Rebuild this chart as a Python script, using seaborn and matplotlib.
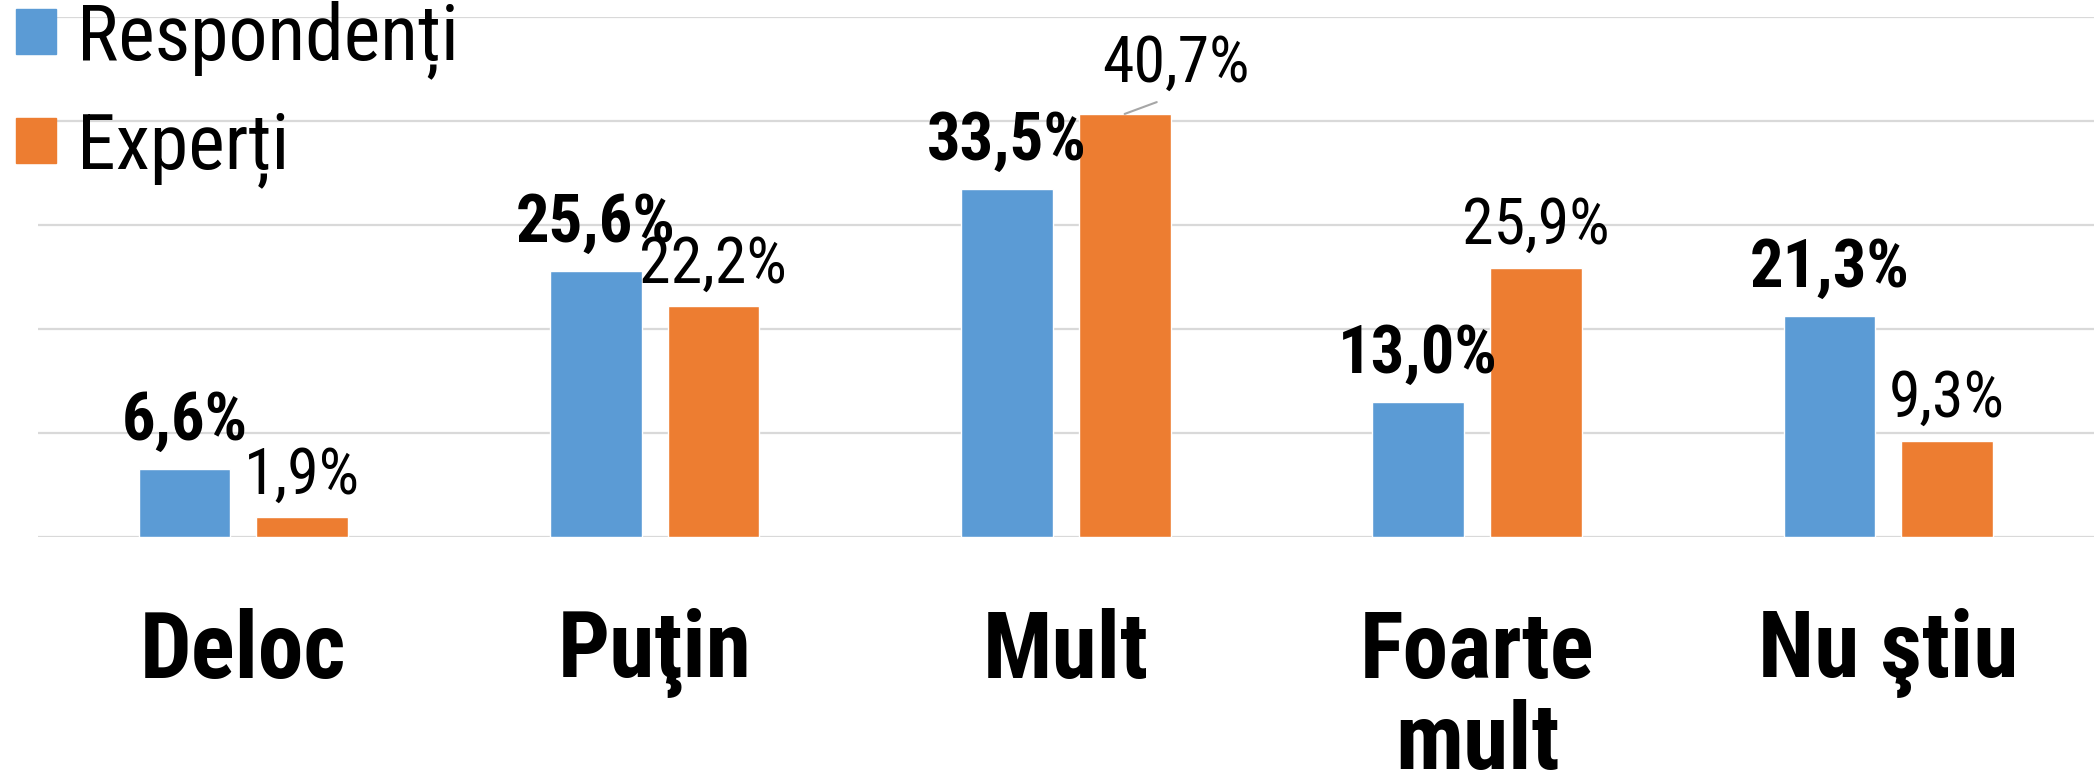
import numpy as np
import pandas as pd

import matplotlib
matplotlib.use("Agg")
import matplotlib.pyplot as plt
import matplotlib.patches as patches
from matplotlib import font_manager as fm

import seaborn as sns

categories = ["Deloc", "Puţin", "Mult", "Foarte\nmult", "Nu ştiu"]
respondenti = [6.6, 25.6, 33.5, 13.0, 21.3]
experti = [1.9, 22.2, 40.7, 25.9, 9.3]
groups = ["Respondenți", "Experți"]

BLUE = "#5B9BD5"
ORANGE = "#ED7D31"
GRID = "#D9D9D9"


def pick_font(names):
    for n in names:
        try:
            fm.findfont(fm.FontProperties(family=n), fallback_to_default=False)
            return n
        except ValueError:
            pass
    return "DejaVu Sans"


def fmt(v):
    return "{:.1f}".format(v).replace(".", ",") + "%"


df = pd.DataFrame({
    "cat": categories * 2,
    "val": respondenti + experti,
    "grup": [groups[0]] * len(categories) + [groups[1]] * len(categories),
})

sns.set_style("white")
font = pick_font(["Roboto Condensed", "Liberation Sans Narrow",
                  "Liberation Sans", "DejaVu Sans"])
plt.rcParams["font.family"] = [font, "DejaVu Sans"]
plt.rcParams["text.color"] = "black"
plt.rcParams["xtick.color"] = "black"

fig = plt.figure(figsize=(20.94, 7.82), dpi=100)
ax = fig.add_axes([0.018, 0.313, 0.982, 0.665])

sns.barplot(data=df, x="cat", y="val", hue="grup", palette=[BLUE, ORANGE],
            width=0.572, gap=0.22, ax=ax, saturation=1, errorbar=None)

ax.set_xlim(-0.5, 4.5)
ax.set_ylim(0, 50)
ax.set_yticks([0, 10, 20, 30, 40, 50])
ax.set_yticklabels([])
ax.yaxis.grid(True, color=GRID, linewidth=1.6)
ax.set_axisbelow(True)
for s in ax.spines.values():
    s.set_visible(False)
ax.tick_params(axis="both", length=0)
ax.tick_params(axis="x", pad=51)
ax.set_xlabel("")
ax.set_ylabel("")
for t in ax.get_xticklabels():
    t.set_fontsize(66)
    t.set_fontweight("bold")
    t.set_color("black")
    t.set_linespacing(1.03)

# the 40,7% label sits up and to the right, with a leader line
nudge_exp = {2: (37, 6)}

for i, bar in enumerate(ax.containers[0]):
    x = bar.get_x() + bar.get_width() / 2
    h = bar.get_height()
    ax.annotate(fmt(respondenti[i]), (x, h), xytext=(0, 21),
                textcoords="offset points", ha="center", va="baseline",
                fontsize=48, fontweight="bold", color="black")

for i, bar in enumerate(ax.containers[1]):
    x = bar.get_x() + bar.get_width() / 2
    h = bar.get_height()
    dx, dy = nudge_exp.get(i, (0, 0))
    kw = {}
    if i == 2:
        kw["arrowprops"] = dict(arrowstyle="-", color="#A6A6A6", lw=1.5,
                                relpos=(0.5, 0), shrinkA=8, shrinkB=0)
    ax.annotate(fmt(experti[i]), (x, h), xytext=(dx, 17 + dy),
                textcoords="offset points", ha="center", va="baseline",
                fontsize=46, color="black", **kw)

handles = [patches.Patch(color=BLUE), patches.Patch(color=ORANGE)]
leg = ax.legend(handles, groups, loc="upper left", bbox_to_anchor=(0.0075, 1.0),
                bbox_transform=fig.transFigure, frameon=False, fontsize=56,
                handlelength=0.52, handleheight=0.52, handletextpad=0.27,
                labelspacing=0.39, borderpad=0, borderaxespad=0)
for t in leg.get_texts():
    t.set_color("black")

fig.savefig("out.png", dpi=100)
